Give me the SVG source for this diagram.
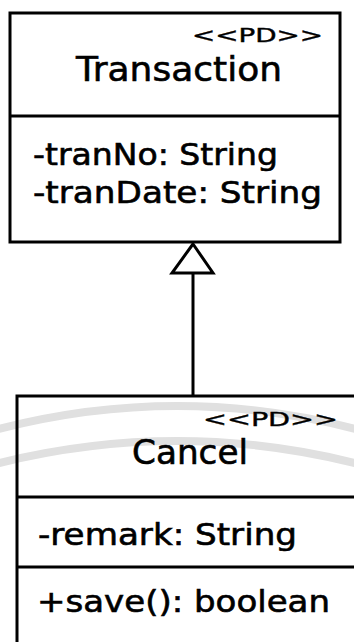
<svg xmlns="http://www.w3.org/2000/svg" width="354" height="642" viewBox="0 0 354 642">
  <style>
    .box { fill: #ffffff; stroke: #000000; stroke-width: 3; }
    .rule { stroke: #000000; stroke-width: 3; fill: none; }
    .txt { font-family: "DejaVu Sans", "Liberation Sans", sans-serif; fill: #000000; stroke: #000000; stroke-width: 0.6; }
    .stereo { font-size: 19px; stroke-width: 0.4; }
    .name { font-size: 34px; }
    .member { font-size: 30px; }
    .seal { fill: none; stroke: #e0e0e0; stroke-width: 8; }
  </style>

  <rect x="0" y="0" width="354" height="642" fill="#ffffff"/>

  <!-- faint background seal -->
  <g id="seal">
    <path class="seal" d="M -20 434 Q 177 378 374 434"/>
    <path class="seal" d="M -20 468 Q 177 414 374 468"/>
  </g>

  <!-- Transaction class -->
  <g id="transaction">
    <rect class="box" x="10" y="13" width="330" height="229"/>
    <line class="rule" x1="10" y1="116" x2="340" y2="116"/>
    <text class="txt stereo" x="192" y="42" textLength="131" lengthAdjust="spacingAndGlyphs">&lt;&lt;PD&gt;&gt;</text>
    <text class="txt name" x="76" y="81" textLength="206" lengthAdjust="spacingAndGlyphs">Transaction</text>
    <text class="txt member" x="33" y="165" textLength="245" lengthAdjust="spacingAndGlyphs">-tranNo: String</text>
    <text class="txt member" x="33" y="203" textLength="289" lengthAdjust="spacingAndGlyphs">-tranDate: String</text>
  </g>

  <!-- Cancel class (runs past the lower and right edges) -->
  <g id="cancel">
    <rect class="box" x="17" y="396" width="350" height="260" fill-opacity="0"/>
    <line class="rule" x1="17" y1="497" x2="354" y2="497"/>
    <line class="rule" x1="17" y1="567" x2="354" y2="567"/>
    <text class="txt stereo" x="203" y="426" textLength="135" lengthAdjust="spacingAndGlyphs">&lt;&lt;PD&gt;&gt;</text>
    <text class="txt name" x="132" y="464" textLength="116" lengthAdjust="spacingAndGlyphs">Cancel</text>
    <text class="txt member" x="38" y="545" textLength="259" lengthAdjust="spacingAndGlyphs">-remark: String</text>
    <text class="txt member" x="37" y="612" textLength="293" lengthAdjust="spacingAndGlyphs">+save(): boolean</text>
  </g>

  <!-- generalization connector -->
  <g id="connectors">
    <line class="rule" x1="193" y1="396" x2="193" y2="273"/>
    <polygon class="box" points="193,244 172,273 213,273"/>
  </g>
</svg>
